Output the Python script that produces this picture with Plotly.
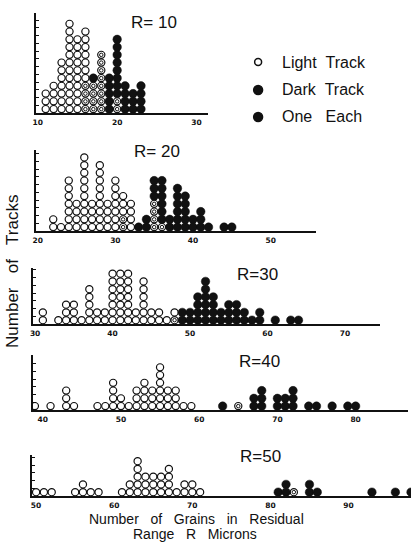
import plotly.graph_objects as go

W, H = 411, 542

# ---- data: number of tracks per grain count, by residual range R ----
r10_grains = [11, 12, 13, 14, 15, 16, 17, 18, 19, 20, 21, 22, 23]
r10_light = [3, 4, 7, 12, 10, 7, 0, 0, 0, 0, 0, 0, 0]
r10_each = [0, 0, 0, 0, 0, 4, 4, 8, 0, 2, 0, 0, 0]
r10_dark = [0, 0, 0, 0, 0, 0, 1, 0, 5, 8, 4, 3, 4]

r20_grains = [22, 23, 24, 25, 26, 27, 28, 29, 30, 31, 32, 33, 34, 35, 36, 37, 38, 39, 40, 41, 42, 44, 45]
r20_light = [2, 1, 7, 4, 10, 4, 9, 4, 7, 3, 4, 0, 0, 0, 0, 0, 0, 0, 0, 0, 0, 0, 0]
r20_each = [0, 0, 0, 0, 0, 0, 0, 0, 0, 2, 0, 0, 0, 4, 1, 0, 0, 0, 0, 0, 0, 0, 0]
r20_dark = [0, 0, 0, 0, 0, 0, 0, 0, 0, 0, 0, 1, 2, 3, 6, 2, 6, 5, 2, 3, 1, 1, 1]

r30_grains = [31, 33, 34, 35, 36, 37, 38, 39, 40, 41, 42, 43, 44, 45, 46, 47, 48,
              49, 50, 51, 52, 53, 54, 55, 56, 57, 58, 59, 61, 63, 64]
r30_light = [2, 1, 3, 3, 1, 5, 2, 2, 7, 7, 7, 2, 6, 2, 2, 1, 1,
             0, 0, 0, 0, 0, 0, 0, 0, 0, 0, 0, 0, 0, 0]
r30_each = [0, 0, 0, 0, 0, 0, 0, 0, 0, 0, 0, 0, 0, 0, 0, 0, 1,
            0, 0, 0, 0, 0, 0, 0, 0, 0, 0, 0, 0, 0, 0]
r30_dark = [0, 0, 0, 0, 0, 0, 0, 0, 0, 0, 0, 0, 0, 0, 0, 0, 0,
            2, 2, 4, 6, 4, 2, 3, 3, 2, 1, 2, 1, 1, 1]

r40_grains = [39, 41, 43, 44, 47, 48, 49, 50, 51, 52, 53, 54, 55, 56, 57, 58, 59,
              63, 65, 67, 68, 70, 71, 72, 74, 75, 77, 79, 80]
r40_light = [1, 1, 3, 1, 1, 1, 4, 2, 1, 3, 4, 3, 6, 3, 3, 1, 1,
             0, 0, 0, 0, 0, 0, 0, 0, 0, 0, 0, 0]
r40_each = [0, 0, 0, 0, 0, 0, 0, 0, 0, 0, 0, 0, 0, 0, 0, 0, 0,
            0, 1, 0, 0, 0, 0, 0, 0, 0, 0, 0, 0]
r40_dark = [0, 0, 0, 0, 0, 0, 0, 0, 0, 0, 0, 0, 0, 0, 0, 0, 0,
            1, 0, 2, 3, 2, 2, 3, 1, 1, 1, 1, 1]

r50_grains = [50, 51, 52, 55, 56, 57, 58, 61, 62, 63, 64, 65, 66, 67, 68, 69, 70, 71,
              81, 82, 83, 85, 86, 93, 96, 98]
r50_light = [1, 1, 1, 1, 2, 1, 1, 1, 2, 5, 3, 3, 3, 4, 1, 2, 2, 1,
             0, 0, 0, 0, 0, 0, 0, 0]
r50_each = [0, 0, 0, 0, 0, 0, 0, 0, 0, 0, 0, 0, 0, 0, 0, 0, 0, 0,
            0, 0, 1, 0, 0, 0, 0, 0]
r50_dark = [0, 0, 0, 0, 0, 0, 0, 0, 0, 0, 0, 0, 0, 0, 0, 0, 0, 0,
            1, 2, 0, 2, 1, 1, 1, 1]

r_labels = ["R= 10", "R= 20", "R=30", "R=40", "R=50"]
x_ticks = [[10, 20, 30], [20, 30, 40, 50], [30, 40, 50, 60, 70],
           [40, 50, 60, 70, 80], [50, 60, 70, 80, 90]]

# ---- panel geometry (pixel boxes) ----
panels = [
    dict(data=(r10_grains, r10_light, r10_each, r10_dark), px=(33, 207), py=(13, 113),
         xr=(9.75, 31.5), lab=(152, 23)),
    dict(data=(r20_grains, r20_light, r20_each, r20_dark), px=(33, 315), py=(150, 231),
         xr=(19.75, 55.8), lab=(155, 151)),
    dict(data=(r30_grains, r30_light, r30_each, r30_dark), px=(30, 380), py=(268, 324),
         xr=(29.7, 74.55), lab=(256, 274)),
    dict(data=(r40_grains, r40_light, r40_each, r40_dark), px=(30, 408), py=(355, 410),
         xr=(38.73, 86.7), lab=(258, 362)),
    dict(data=(r50_grains, r50_light, r50_each, r50_dark), px=(29, 411), py=(455, 496),
         xr=(49.45, 98.0), lab=(259, 456)),
]
ROW_PX = 7.75

ink = "#111111"
FONT = "Liberation Sans"
fig = go.Figure()
layout = dict(width=W, height=H, margin=dict(l=0, r=0, t=0, b=0),
              paper_bgcolor="white", plot_bgcolor="white", showlegend=False)
annotations = []
shapes = []


def stacks(grains, light, each, dark):
    """Stack one-each marks first, then light, then dark in every column."""
    out = {"each": ([], []), "light": ([], []), "dark": ([], [])}
    for g, nl, ne, nd in zip(grains, light, each, dark):
        level = 0
        for kind, n in (("each", ne), ("light", nl), ("dark", nd)):
            for _ in range(n):
                out[kind][0].append(g)
                out[kind][1].append(level + 0.5)
                level += 1
    return out


for i, p in enumerate(panels, start=1):
    sfx = "" if i == 1 else str(i)
    xa, ya = "x" + sfx, "y" + sfx
    st = stacks(*p["data"])
    top = (p["py"][1] - p["py"][0]) / ROW_PX

    fig.add_trace(go.Scatter(
        x=st["light"][0], y=st["light"][1], mode="markers", xaxis=xa, yaxis=ya,
        marker=dict(symbol="circle", size=7.2, color="white", line=dict(color=ink, width=1.2))))
    fig.add_trace(go.Scatter(
        x=st["each"][0], y=st["each"][1], mode="markers", xaxis=xa, yaxis=ya,
        marker=dict(symbol="circle", size=7.2, color="white", line=dict(color=ink, width=1.2))))
    fig.add_trace(go.Scatter(
        x=st["each"][0], y=st["each"][1], mode="markers", xaxis=xa, yaxis=ya,
        marker=dict(symbol="circle-open", size=3.5, color=ink, line=dict(color=ink, width=1))))
    fig.add_trace(go.Scatter(
        x=st["dark"][0], y=st["dark"][1], mode="markers", xaxis=xa, yaxis=ya,
        marker=dict(symbol="circle", size=8.5, color=ink, line=dict(color=ink, width=0.5))))

    layout["xaxis" + sfx] = dict(
        domain=[p["px"][0] / W, p["px"][1] / W], range=list(p["xr"]), anchor=ya,
        showgrid=False, zeroline=False, showline=True, linecolor=ink, linewidth=2,
        tickmode="array", tickvals=x_ticks[i - 1], ticks="", ticklabelstandoff=1,
        tickfont=dict(family="DejaVu Sans", size=7.5, color=ink, weight="bold"))
    layout["yaxis" + sfx] = dict(
        domain=[1 - p["py"][1] / H, 1 - p["py"][0] / H], range=[0, top], anchor=xa,
        showgrid=False, zeroline=False, showline=True, linecolor=ink, linewidth=1.5,
        tickmode="linear", tick0=0, dtick=1, ticks="inside", ticklen=3, tickwidth=1,
        tickcolor=ink, showticklabels=False)

    annotations.append(dict(
        x=p["lab"][0] / W, y=1 - p["lab"][1] / H, xref="paper", yref="paper",
        text=r_labels[i - 1], showarrow=False, xanchor="center", yanchor="middle",
        font=dict(family=FONT, size=17, color=ink)))

# key
key_items = [("Light\u00a0\u00a0Track", 62, "white", 3.5), ("Dark\u00a0\u00a0Track", 90, ink, 4.5),
             ("One\u00a0\u00a0\u00a0Each", 117, ink, 4.5)]
for text, ky, fill, r in key_items:
    cx = 257
    shapes.append(dict(type="circle", xref="paper", yref="paper",
                       x0=(cx - r) / W, x1=(cx + r) / W, y0=1 - (ky + r) / H, y1=1 - (ky - r) / H,
                       fillcolor=fill, line=dict(color=ink, width=1.5)))
    annotations.append(dict(x=279 / W, y=1 - ky / H, xref="paper", yref="paper", text=text,
                            showarrow=False, xanchor="left", yanchor="middle",
                            font=dict(family=FONT, size=16, color=ink)))

# axis titles
annotations.append(dict(x=9 / W, y=1 - 271 / H, xref="paper", yref="paper",
                        text="Number\u00a0\u00a0\u00a0of\u00a0\u00a0\u00a0Tracks", textangle=-90,
                        showarrow=False, xanchor="center", yanchor="middle",
                        font=dict(family=FONT, size=17, color=ink)))
annotations.append(dict(x=195 / W, y=1 - 518.5 / H, xref="paper", yref="paper",
                        text="Number\u00a0\u00a0\u00a0of\u00a0\u00a0\u00a0Grains\u00a0\u00a0\u00a0in\u00a0\u00a0\u00a0Residual",
                        showarrow=False, xanchor="center", yanchor="middle",
                        font=dict(family=FONT, size=14, color=ink)))
annotations.append(dict(x=193 / W, y=1 - 534 / H, xref="paper", yref="paper",
                        text="Range\u00a0\u00a0\u00a0R\u00a0\u00a0\u00a0Microns",
                        showarrow=False, xanchor="center", yanchor="middle",
                        font=dict(family=FONT, size=14, color=ink)))

layout["annotations"] = annotations
layout["shapes"] = shapes
fig.update_layout(**layout)
fig.write_html("out.html")
